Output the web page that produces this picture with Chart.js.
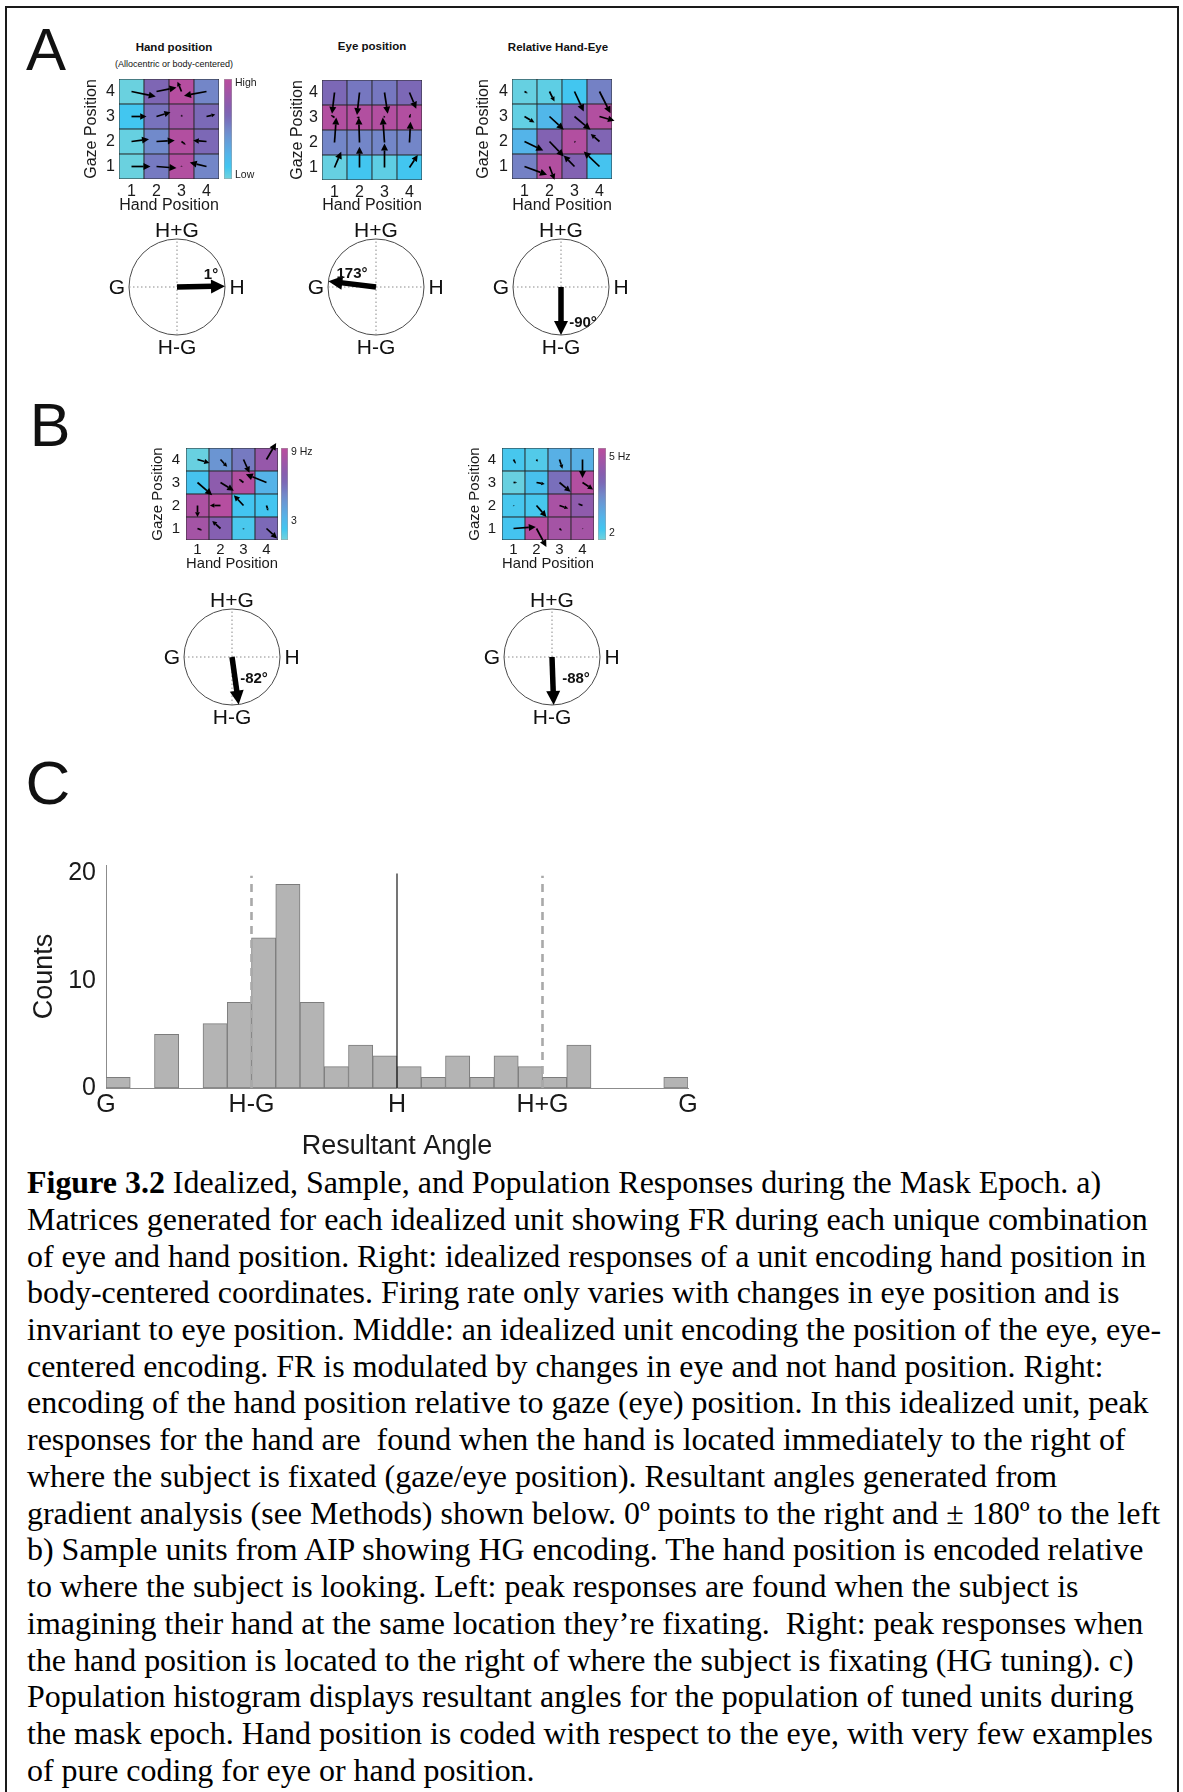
<!DOCTYPE html>
<html><head><meta charset="utf-8">
<script src="https://cdn.jsdelivr.net/npm/chart.js@4.4.1/dist/chart.umd.min.js"></script>
<style>
html,body{margin:0;padding:0;background:#fff;}
#page{position:relative;width:1183px;height:1792px;overflow:hidden;font-family:'Liberation Sans',Arial,sans-serif;color:#111;background:#fff;}
.frame{position:absolute;left:5px;top:6px;width:1170px;height:1800px;border:2px solid #1a1a1a;border-bottom:none;}
canvas{position:absolute;}
.t{position:absolute;white-space:nowrap;line-height:1;transform:translate(-50%,-50%);}
.cap{position:absolute;left:27px;white-space:pre;font-family:'Liberation Serif','Times New Roman',serif;line-height:1;color:#000;}
</style></head>
<body><div id="page"><div class="frame"></div></div>
<script>
// ---------------- DATA ----------------
const handPositions = ['1','2','3','4'];
const gazePositions = ['1','2','3','4'];

// Idealized units (normalized firing rate, rows = gaze 1..4 bottom->top, cols = hand 1..4)
const handUnitFR   = [[0.02,0.55,0.95,0.50],[0.03,0.48,0.95,0.63],[0.12,0.58,0.85,0.62],[0.02,0.65,0.97,0.50]];
const handUnitGX   = [[0.76,0.80,0.00,-0.67],[0.70,0.73,0.17,-0.53],[0.60,0.56,0.02,0.35],[0.97,0.80,-0.16,-0.90]];
const handUnitGY   = [[0.00,-0.06,0.04,0.16],[0.09,0.04,-0.13,0.04],[0.00,0.17,0.08,0.08],[-0.20,0.16,0.39,-0.17]];

const eyeUnitFR    = [[0.03,0.12,0.05,0.12],[0.50,0.50,0.50,0.50],[0.95,0.95,0.95,0.95],[0.63,0.56,0.56,0.63]];
const eyeUnitGX    = [[0.27,0.00,0.00,0.33],[0.07,-0.03,-0.07,0.04],[-0.15,-0.12,-0.03,0.05],[-0.10,-0.10,0.13,0.27]];
const eyeUnitGY    = [[0.63,0.83,0.96,0.50],[1.00,1.00,1.00,0.83],[0.10,0.00,0.08,0.15],[-0.85,-0.90,-0.85,-0.65]];

const relUnitFR    = [[0.52,0.95,0.68,0.14],[0.24,0.68,0.95,0.66],[0.04,0.22,0.68,0.95],[0.03,0.05,0.12,0.52]];
const relUnitGX    = [[0.90,0.20,-0.43,-0.63],[0.75,0.57,0.05,-0.35],[0.40,0.57,0.64,0.60],[0.13,0.20,0.37,0.44]];
const relUnitGY    = [[-0.33,-0.53,0.44,0.60],[-0.36,-0.60,-0.03,0.30],[-0.24,-0.53,-0.53,-0.17],[-0.07,-0.40,-0.80,-0.87]];

// Sample AIP units (Hz)
const sample1FR    = [[8.4,7.0,2.2,6.4],[8.8,9.2,2.4,2.4],[2.6,7.4,9.0,3.4],[1.6,4.8,5.8,7.8]];
const sample1GX    = [[0.20,-0.36,0.00,0.46],[0.00,-0.46,-0.42,0.07],[0.64,0.58,-0.20,-0.90],[0.52,0.29,0.26,0.42]];
const sample1GY    = [[-0.08,0.33,-0.05,-0.43],[-0.50,0.00,0.45,-0.23],[-0.55,-0.36,0.15,0.36],[-0.15,-0.32,-0.58,0.72]];
const sample1Range = [1.4, 9.4];
const sample1Ticks = [3, 9];
const sample1TickLabels = ['3', '9 Hz'];

const sample2FR    = [[2.2,5.2,4.9,4.9],[2.1,2.1,5.0,4.5],[1.8,2.3,3.9,5.2],[2.1,2.0,2.7,2.7]];
const sample2GX    = [[0.97,0.43,0.10,0.02],[0.02,0.43,0.38,-0.20],[0.15,0.36,0.48,0.46],[0.10,0.05,0.13,0.00]];
const sample2GY    = [[0.07,-0.80,-0.10,-0.02],[-0.03,-0.50,-0.13,0.08],[0.00,-0.07,-0.40,-0.30],[-0.18,-0.10,-0.40,-0.80]];
const sample2Range = [1.71, 5.37];
const sample2Ticks = [2, 5];
const sample2TickLabels = ['2', '5 Hz'];

const idealTicks = [0.04, 0.96];
const idealTickLabels = ['Low', 'High'];

// Resultant angles (deg) : hand, eye, relative, sample 1, sample 2
const resultantAngles = [1, 173, -90, -82, -88];
const compassLabels = ['H+G', 'H-G', 'G', 'H'];

// Population histogram
const binCenters = [-172.5,-157.5,-142.5,-127.5,-112.5,-97.5,-82.5,-67.5,-52.5,-37.5,-22.5,-7.5,
                    7.5,22.5,37.5,52.5,67.5,82.5,97.5,112.5,127.5,142.5,157.5,172.5];
const binCounts  = [1,0,5,0,6,8,14,19,8,2,4,3,2,1,3,1,3,2,1,4,0,0,0,1];
const angleTickValues = [-180,-90,0,90,180];
const angleTickLabels = ['G','H-G','H','H+G','G'];
const refLineAngles = [-90, 0, 90];
const refLineTops   = [19.8, 20, 19.8];

const captionLines = [
  ['Figure 3.2', ' Idealized, Sample, and Population Responses during the Mask Epoch. a)'],
  ['', 'Matrices generated for each idealized unit showing FR during each unique combination'],
  ['', 'of eye and hand position. Right: idealized responses of a unit encoding hand position in'],
  ['', 'body-centered coordinates. Firing rate only varies with changes in eye position and is'],
  ['', 'invariant to eye position. Middle: an idealized unit encoding the position of the eye, eye-'],
  ['', 'centered encoding. FR is modulated by changes in eye and not hand position. Right:'],
  ['', 'encoding of the hand position relative to gaze (eye) position. In this idealized unit, peak'],
  ['', 'responses for the hand are  found when the hand is located immediately to the right of'],
  ['', 'where the subject is fixated (gaze/eye position). Resultant angles generated from'],
  ['', 'gradient analysis (see Methods) shown below. 0º points to the right and ± 180º to the left'],
  ['', 'b) Sample units from AIP showing HG encoding. The hand position is encoded relative'],
  ['', 'to where the subject is looking. Left: peak responses are found when the subject is'],
  ['', 'imagining their hand at the same location they’re fixating.  Right: peak responses when'],
  ['', 'the hand position is located to the right of where the subject is fixating (HG tuning). c)'],
  ['', 'Population histogram displays resultant angles for the population of tuned units during'],
  ['', 'the mask epoch. Hand position is coded with respect to the eye, with very few examples'],
  ['', 'of pure coding for eye or hand position.']
];

// ---------------- STYLE / HELPERS ----------------
const FONT = "'Liberation Sans', Arial, sans-serif";
Chart.defaults.font.family = FONT;
Chart.defaults.color = '#1a1a1a';
const page = document.getElementById('page');

const cmapStops = [[0,'#72d3dc'],[0.12,'#42c6f0'],[0.25,'#55b3e8'],[0.42,'#6a96d3'],[0.5,'#7386c8'],
  [0.56,'#7677c0'],[0.63,'#7c68b6'],[0.72,'#875eaf'],[0.82,'#9a57a9'],[0.95,'#b24fa0'],[1,'#bb4c9f']];
function hex2rgb(h){return [parseInt(h.slice(1,3),16),parseInt(h.slice(3,5),16),parseInt(h.slice(5,7),16)];}
function cmap(t){
  t = Math.max(0, Math.min(1, t));
  for (let i=1;i<cmapStops.length;i++){
    if (t <= cmapStops[i][0]){
      const [t0,c0]=cmapStops[i-1],[t1,c1]=cmapStops[i];
      const f=(t-t0)/(t1-t0), a=hex2rgb(c0), b=hex2rgb(c1);
      return 'rgb('+a.map((v,k)=>Math.round(v+(b[k]-v)*f)).join(',')+')';
    }
  }
  return cmapStops[cmapStops.length-1][1];
}
function addCanvas(x,y,w,h){
  const c=document.createElement('canvas');
  c.width=w;c.height=h;c.style.left=x+'px';c.style.top=y+'px';c.style.width=w+'px';c.style.height=h+'px';
  page.appendChild(c);return c;
}
function addText(txt,cx,cy,css){
  const d=document.createElement('div');d.className='t';d.textContent=txt;
  d.style.left=cx+'px';d.style.top=cy+'px';d.style.cssText+=css||'';page.appendChild(d);return d;
}
function drawArrow(ctx,x0,y0,x1,y1,lw,headLen,headHalf){
  const L=Math.hypot(x1-x0,y1-y0); if(L<0.6){ctx.beginPath();ctx.arc(x0,y0,0.9,0,7);ctx.fill();return;}
  const ux=(x1-x0)/L, uy=(y1-y0)/L;
  const hl=Math.min(headLen,L*0.42), hw=hl*headHalf;
  const bx=x1-ux*hl, by=y1-uy*hl;
  ctx.lineWidth=lw;ctx.beginPath();ctx.moveTo(x0,y0);ctx.lineTo(bx,by);ctx.stroke();
  ctx.beginPath();ctx.moveTo(x1,y1);ctx.lineTo(bx-uy*hw,by+ux*hw);ctx.lineTo(bx+uy*hw,by-ux*hw);ctx.closePath();ctx.fill();
}
const baseOpts = {responsive:false, animation:false, events:[], devicePixelRatio:1};

// ---------------- HEATMAP ----------------
function makeHeatmap(g, fr, gx, gy, vmin, vmax){
  const F=g.font, lh=F*1.2, PT=16, PR=16;
  const CL=Math.round(g.titleX-lh/2), YW=g.gridL-CL;
  const XH=Math.round(g.titleY+lh/2-(g.gridT+g.size));
  const cv=addCanvas(CL,g.gridT-PT,YW+g.size+PR,PT+g.size+XH);
  const datasets=gazePositions.map((gz,r)=>({
    label:'Gaze '+gz, data:handPositions.map(()=>1),
    backgroundColor:fr[r].map(v=>cmap((v-vmin)/(vmax-vmin))),
    borderColor:'#262626', borderWidth:0.8, borderSkipped:false,
    barPercentage:1, categoryPercentage:1
  }));
  const quiver={id:'quiver',afterDatasetsDraw(chart){
    const {ctx,scales:{x,y}}=chart;
    const cw=x.getPixelForValue(1)-x.getPixelForValue(0), ch=y.getPixelForValue(0)-y.getPixelForValue(1);
    ctx.save();ctx.fillStyle='#000';ctx.strokeStyle='#000';
    for(let r=0;r<4;r++)for(let c=0;c<4;c++){
      const x0=x.getPixelForValue(c), y0=y.getPixelForValue(r+0.5);
      drawArrow(ctx,x0,y0,x0+gx[r][c]*cw,y0-gy[r][c]*ch,1.7,7,0.5);
    }
    ctx.restore();
  }};
  new Chart(cv,{type:'bar',data:{labels:handPositions,datasets},
    options:Object.assign({},baseOpts,{
      layout:{padding:{top:PT,right:PR,left:0,bottom:0}},
      plugins:{legend:{display:false},tooltip:{enabled:false}},
      scales:{
        x:{stacked:true,grid:{display:false,drawTicks:false},border:{display:false},
           ticks:{font:{size:F},color:'#1a1a1a',padding:g.padX,maxRotation:0,autoSkip:false},
           title:{display:true,text:'Hand Position',font:{size:F},color:'#1a1a1a',padding:0},
           afterFit(s){s.height=XH;}},
        y:{stacked:true,min:0,max:4,grid:{display:false,drawTicks:false},border:{display:false},
           afterBuildTicks(s){s.ticks=gazePositions.map((_,i)=>({value:i+0.5}));},
           ticks:{font:{size:F},color:'#1a1a1a',padding:g.padY,callback:(v,i)=>gazePositions[i]},
           title:{display:true,text:'Gaze Position',font:{size:F},color:'#1a1a1a',padding:0},
           afterFit(s){s.width=YW;}}
      }}),
    plugins:[quiver]});
}

function makeColorbar(barL,barR,gridT,size,range,ticks,labels){
  const PT=10,YW=44;
  const cv=addCanvas(barL,gridT-PT,(barR-barL)+YW,size+PT+10);
  new Chart(cv,{type:'bar',data:{labels:[''],datasets:[{data:[range],
      backgroundColor(ctx){const a=ctx.chart.chartArea;if(!a)return 'transparent';
        const gr=ctx.chart.ctx.createLinearGradient(0,a.bottom,0,a.top);
        cmapStops.forEach(([t,c])=>gr.addColorStop(t,c));return gr;},
      borderColor:'#a0a0a0',borderWidth:0.8,borderSkipped:false,barPercentage:1,categoryPercentage:1}]},
    options:Object.assign({},baseOpts,{
      layout:{padding:{top:PT,bottom:10,left:0,right:0}},
      plugins:{legend:{display:false},tooltip:{enabled:false}},
      scales:{x:{display:false},
        y:{position:'right',min:range[0],max:range[1],grid:{display:false,drawTicks:false},border:{display:false},
           afterBuildTicks(s){s.ticks=ticks.map(v=>({value:v}));},
           ticks:{font:{size:10.5},color:'#1a1a1a',padding:3,callback:(v,i)=>labels[i]},
           afterFit(s){s.width=YW;}}}})});
}

// ---------------- COMPASS ----------------
function makeCompass(cx,cy,r,angle,ldx,ldy){
  const S=90, th=angle*Math.PI/180, head=14;
  const k=(r-head+2)/r;
  const cv=addCanvas(cx-S,cy-S,2*S,2*S);
  const dotted={showLine:true,borderColor:'#8a8a8a',borderWidth:1,borderDash:[1.5,2.5],pointRadius:0,order:2};
  const deco={id:'compass',
    beforeDatasetsDraw(chart){
      const {ctx,scales:{x,y}}=chart;const ox=x.getPixelForValue(0),oy=y.getPixelForValue(0);
      const R=x.getPixelForValue(1)-ox;
      ctx.save();ctx.strokeStyle='#4a4a4a';ctx.lineWidth=1;ctx.beginPath();ctx.arc(ox,oy,R,0,Math.PI*2);ctx.stroke();ctx.restore();
    },
    afterDatasetsDraw(chart){
      const {ctx,scales:{x,y}}=chart;const ox=x.getPixelForValue(0),oy=y.getPixelForValue(0);
      const tx=x.getPixelForValue(Math.cos(th)),ty=y.getPixelForValue(Math.sin(th));
      const sx=x.getPixelForValue(k*Math.cos(th)),sy=y.getPixelForValue(k*Math.sin(th));
      ctx.save();ctx.fillStyle='#000';
      const ux=tx-sx,uy=ty-sy,L=Math.hypot(ux,uy),nx=-uy/L*7,ny=ux/L*7;
      const bx=tx-ux/L*head,by=ty-uy/L*head;
      ctx.beginPath();ctx.moveTo(tx,ty);ctx.lineTo(bx+nx,by+ny);ctx.lineTo(bx-nx,by-ny);ctx.closePath();ctx.fill();
      ctx.fillStyle='#111';ctx.textAlign='center';ctx.textBaseline='middle';
      ctx.font='21px '+FONT;
      ctx.fillText(compassLabels[0],ox,oy-56);
      ctx.fillText(compassLabels[1],ox,oy+61);
      ctx.fillText(compassLabels[2],ox-60,oy+1);
      ctx.fillText(compassLabels[3],ox+60,oy+1);
      ctx.font='bold 15px '+FONT;
      ctx.fillText(angle+'°',ox+ldx,oy+ldy);
      ctx.restore();
    }};
  new Chart(cv,{type:'scatter',data:{datasets:[
      Object.assign({data:[{x:-1,y:0},{x:1,y:0}]},dotted),
      Object.assign({data:[{x:0,y:-1},{x:0,y:1}]},dotted),
      {data:[{x:0,y:0},{x:k*Math.cos(th),y:k*Math.sin(th)}],showLine:true,borderColor:'#000',borderWidth:5.5,pointRadius:0,borderCapStyle:'butt',order:0}
    ]},
    options:Object.assign({},baseOpts,{layout:{padding:S-r},
      plugins:{legend:{display:false},tooltip:{enabled:false}},
      scales:{x:{display:false,min:-1,max:1},y:{display:false,min:-1,max:1}}}),
    plugins:[deco]});
}

// ---------------- PANEL A ----------------
addText('A',46,50,'font-size:60px;');
addText('Hand position',174,48,'font-size:11.5px;font-weight:bold;');
addText('(Allocentric or body-centered)',174,64,'font-size:9px;');
addText('Eye position',372,47,'font-size:11.5px;font-weight:bold;');
addText('Relative Hand-Eye',558,48,'font-size:11.5px;font-weight:bold;');

makeHeatmap({titleX:92,gridL:119,gridT:79,size:100,font:16,titleY:205,padX:3,padY:4},handUnitFR,handUnitGX,handUnitGY,0,1);
makeColorbar(224,232,79,100,[0,1],idealTicks,idealTickLabels);
makeHeatmap({titleX:298,gridL:322,gridT:80,size:100,font:16,titleY:205,padX:3,padY:4},eyeUnitFR,eyeUnitGX,eyeUnitGY,0,1);
makeHeatmap({titleX:484,gridL:512,gridT:79,size:100,font:16,titleY:205,padX:3,padY:4},relUnitFR,relUnitGX,relUnitGY,0,1);

makeCompass(177,287,48,resultantAngles[0],34,-12);
makeCompass(376,287,48,resultantAngles[1],-24,-13);
makeCompass(561,287,48,resultantAngles[2],22,36);

// ---------------- PANEL B ----------------
addText('B',50,425,'font-size:61px;');
makeHeatmap({titleX:158,gridL:186,gridT:448,size:92,font:15,titleY:564,padX:1,padY:6},sample1FR,sample1GX,sample1GY,sample1Range[0],sample1Range[1]);
makeColorbar(281,288,448,92,sample1Range,sample1Ticks,sample1TickLabels);
makeHeatmap({titleX:475,gridL:502,gridT:448,size:92,font:15,titleY:564,padX:1,padY:6},sample2FR,sample2GX,sample2GY,sample2Range[0],sample2Range[1]);
makeColorbar(598,606,448,92,sample2Range,sample2Ticks,sample2TickLabels);

makeCompass(232,657,48,resultantAngles[3],22,22);
makeCompass(552,657,48,resultantAngles[4],24,22);

// ---------------- PANEL C ----------------
addText('C',48,783,'font-size:62px;');
(function(){
  const cv=addCanvas(28,840,680,323);
  const refSets=refLineAngles.map((a,i)=>({type:'line',data:[{x:a,y:0},{x:a,y:refLineTops[i]}],
     borderColor:a===0?'#1a1a1a':'#a9a9a9',borderWidth:a===0?1.2:2.6,borderDash:a===0?[]:[8,6],
     pointRadius:0,order:0}));
  new Chart(cv,{type:'bar',data:{datasets:[
      {type:'bar',data:binCenters.map((c,i)=>({x:c,y:binCounts[i]})),backgroundColor:'#b4b4b4',
       borderColor:'#7c7c7c',borderWidth:1,borderSkipped:false,barPercentage:1,categoryPercentage:1,order:1}
    ].concat(refSets)},
    options:Object.assign({},baseOpts,{
      layout:{padding:{top:20,right:20,left:0,bottom:0}},
      plugins:{legend:{display:false},tooltip:{enabled:false}},
      scales:{
        x:{type:'linear',min:-180,max:180,offset:false,grid:{display:false,offset:false,drawTicks:false},
           border:{display:true,color:'#8c8c8c',width:1},
           afterBuildTicks(s){s.ticks=angleTickValues.map(v=>({value:v}));},
           ticks:{font:{size:25},color:'#1a1a1a',padding:2,maxRotation:0,autoSkip:false,
                  callback:(v,i)=>angleTickLabels[i]},
           title:{display:true,text:'Resultant Angle',font:{size:27},color:'#1a1a1a',padding:0},
           afterFit(s){s.height=75;}},
        y:{min:0,max:20.8,grid:{display:false,drawTicks:false},border:{display:true,color:'#8c8c8c',width:1},
           ticks:{stepSize:10,includeBounds:false,font:{size:25},color:'#1a1a1a',padding:10},
           title:{display:true,text:'Counts',font:{size:27},color:'#1a1a1a',padding:0},
           afterFit(s){s.width=78;}}
      }})});
})();

// ---------------- CAPTION ----------------
(function(){
  const m=document.createElement('canvas').getContext('2d');
  m.font="100px 'Liberation Serif'";
  const w=m.measureText(captionLines[1][1]).width;
  const F=100*1121/w;
  captionLines.forEach((ln,i)=>{
    const d=document.createElement('div');d.className='cap';
    d.style.fontSize=F.toFixed(2)+'px';
    d.style.top=(1183+36.73*i-F/2).toFixed(1)+'px';
    if(ln[0]){const b=document.createElement('b');b.textContent=ln[0];d.appendChild(b);}
    d.appendChild(document.createTextNode(ln[1]));
    page.appendChild(d);
  });
})();
</script>
</body></html>
